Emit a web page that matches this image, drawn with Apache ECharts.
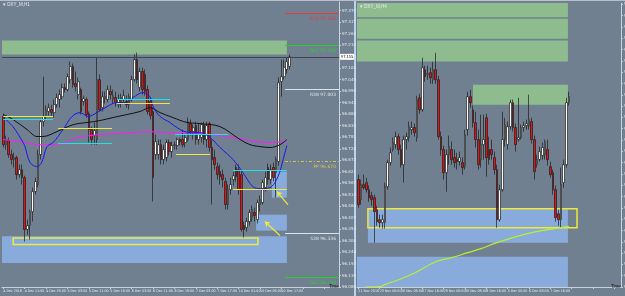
<!DOCTYPE html>
<html>
<head>
<meta charset="utf-8">
<script src="https://cdn.jsdelivr.net/npm/echarts@6/dist/echarts.min.js"></script>
<style>
html, body { margin: 0; padding: 0; background: #708090; }
#chart { width: 625px; height: 296px; }
</style>
</head>
<body>
<div id="chart"></div>
<script>
// left window, H1 bars (4 Dec 03:00 .. 10 Dec)
const leftOpen = [96.878,96.747,96.766,96.701,96.678,96.687,96.608,96.631,96.594,96.353,
  96.371,96.436,96.529,96.562,96.701,96.854,96.878,96.901,96.910,96.896,
  96.933,96.957,96.970,97.012,97.003,97.049,97.110,97.031,96.980,97.003,
  96.947,96.957,96.891,96.817,96.789,96.771,97.049,96.919,96.961,96.957,
  96.994,96.957,96.966,96.933,96.947,96.957,96.947,96.933,96.957,97.049,
  97.142,97.012,97.087,97.073,97.003,96.947,96.901,96.701,96.701,96.747,
  96.678,96.687,96.757,96.715,96.743,96.743,96.771,96.771,96.757,96.771,
  96.845,96.808,96.836,96.771,96.780,96.840,96.771,96.845,96.734,96.687,
  96.645,96.622,96.608,96.576,96.469,96.538,96.585,96.641,96.631,96.608,
  96.371,96.362,96.390,96.408,96.432,96.399,96.469,96.478,96.548,96.641,
  96.585,96.641,96.617,96.669,97.040,97.063,97.096,97.110]
const leftClose = [96.747,96.771,96.701,96.678,96.687,96.608,96.631,96.594,96.353,96.371,
  96.436,96.529,96.576,96.701,96.854,96.878,96.910,96.919,96.896,96.933,
  96.966,96.980,97.012,97.003,97.063,97.110,97.026,97.017,97.040,96.901,
  96.961,96.887,96.817,96.771,96.813,97.049,96.910,96.970,96.970,97.003,
  96.980,96.975,96.943,96.957,96.966,96.975,96.933,96.970,97.049,97.142,
  97.049,97.087,97.003,96.994,96.901,96.882,96.594,96.761,96.747,96.678,
  96.724,96.757,96.715,96.743,96.747,96.771,96.761,96.747,96.780,96.854,
  96.808,96.826,96.771,96.794,96.840,96.771,96.836,96.734,96.678,96.655,
  96.608,96.599,96.585,96.469,96.538,96.562,96.603,96.599,96.538,96.353,
  96.353,96.390,96.432,96.446,96.418,96.478,96.492,96.571,96.594,96.585,
  96.631,96.594,96.678,97.035,97.063,97.105,97.133,97.156]
const leftLow = [96.734,96.724,96.687,96.655,96.641,96.585,96.594,96.562,96.297,96.329,
  96.306,96.390,96.515,96.548,96.678,96.831,96.864,96.882,96.878,96.873,
  96.919,96.919,96.957,96.989,96.994,97.031,97.012,96.994,96.957,96.887,
  96.929,96.873,96.757,96.747,96.747,96.747,96.901,96.901,96.938,96.943,
  96.957,96.938,96.924,96.919,96.919,96.938,96.919,96.910,96.947,97.040,
  97.031,96.994,96.980,96.975,96.887,96.864,96.483,96.678,96.678,96.655,
  96.655,96.669,96.696,96.687,96.724,96.724,96.743,96.734,96.734,96.761,
  96.789,96.771,96.747,96.747,96.757,96.747,96.734,96.715,96.469,96.631,
  96.585,96.562,96.548,96.446,96.446,96.515,96.557,96.576,96.515,96.343,
  96.316,96.343,96.371,96.390,96.390,96.381,96.436,96.469,96.529,96.562,
  96.566,96.576,96.501,96.650,96.970,97.049,97.077,97.096]
const leftHigh = [96.891,96.789,96.780,96.724,96.710,96.696,96.655,96.655,96.603,96.399,
  96.446,96.548,96.594,96.724,96.864,97.063,96.929,96.938,96.933,96.957,
  96.984,97.003,97.031,97.031,97.077,97.133,97.124,97.087,97.059,97.012,
  96.975,96.966,96.901,96.831,96.850,97.152,97.073,96.994,96.994,97.022,
  97.022,97.003,96.994,96.980,96.984,97.003,96.975,96.984,97.068,97.166,
  97.175,97.105,97.105,97.096,97.022,96.966,96.919,96.794,96.771,96.771,
  96.747,96.771,96.771,96.761,96.761,96.780,96.780,96.817,96.794,96.873,
  96.864,96.840,96.854,96.845,96.850,96.854,96.854,96.854,96.771,96.724,
  96.664,96.655,96.631,96.594,96.562,96.594,96.622,96.655,96.655,96.631,
  96.390,96.408,96.446,96.464,96.455,96.492,96.511,96.585,96.622,96.659,
  96.655,96.664,96.692,97.059,97.142,97.142,97.152,97.166]
const leftTimeLabels = ['4 Dec 2018','4 Dec 11:00','4 Dec 19:00','5 Dec 03:00','5 Dec 11:00',
  '5 Dec 19:00','6 Dec 03:00','6 Dec 11:00','6 Dec 19:00','7 Dec 03:00','7 Dec 17:00',
  '10 Dec 01:00','10 Dec 09:00','10 Dec 17:00']

// moving averages [bar, price]
const leftFastMa = [[0,96.873],[3.6,96.831],[7.4,96.757],[8.1,96.738],[10,96.664],[12.6,96.645],
  [14.5,96.669],[16.3,96.738],[18.6,96.757],[22.3,96.817],[25.7,96.878],[28.7,96.896],[31.7,96.878],
  [35,96.896],[38.8,96.924],[42.5,96.943],[46.2,96.943],[48.5,96.966],[52.2,96.989],[54.8,96.970],
  [56,96.924],[58.6,96.878],[62.3,96.850],[66.1,96.817],[69.8,96.803],[73.5,96.803],[77.3,96.780],
  [81,96.734],[85.9,96.678],[89.6,96.617],[93.3,96.552],[96,96.543],[99.7,96.548],[102.7,96.599],
  [104.6,96.678],[106,96.743]]
const leftMidMa = [[0,96.887],[3.6,96.864],[8.9,96.817],[12.6,96.785],[14.8,96.785],[20.1,96.808],
  [26.1,96.840],[31.3,96.850],[36.1,96.859],[41,96.873],[46.2,96.887],[51.1,96.901],[54.8,96.919],
  [58.6,96.896],[63.4,96.873],[68.7,96.850],[73.5,96.845],[81,96.831],[88.5,96.771],[92.2,96.747],
  [96,96.738],[99.7,96.734],[103.4,96.747],[106,96.771]]
const leftSlowMa = [[0,96.771],[6.2,96.761],[13.7,96.747],[18.6,96.747],[23.1,96.757],[27.6,96.780],
  [36.1,96.794],[48.5,96.803],[54.8,96.808],[61.2,96.803],[67.2,96.803],[73.5,96.799],[85.9,96.780],
  [98.6,96.757],[106,96.761]]

// daily levels [fromBar, toBar, price]
const leftYellowLevels = [[0,18.6,96.878],[20.4,40.6,96.822],[42.5,62.3,96.939],[64.6,77.3,96.701],[85.9,106,96.542]]
const leftCyanLevels = [[0,18.6,96.866],[20.4,40.6,96.752],[42.5,62.3,96.957],[64.2,84,96.794],[85.9,106,96.628]]

const leftPivotNames = ['R78','R61','R38','PP','S38','S61']
const leftPivotValues = [97.356, 97.208, 97.003, 96.670, 96.336, 96.130]
const leftBid = 97.155

// zones [fromBar, toBar, lowPrice, highPrice]
const leftSupplyZones = [[-0.5,106,97.166,97.231]]
const leftDemandZones = [[-0.5,106,96.198,96.322],[100.4,106,96.501,96.622],[94.5,106,96.348,96.422]]
const leftFrames = [[3.7,95.2,96.283,96.314]]
// arrows [fromBar, fromPrice, toBar, toPrice]
const leftArrows = [[106.4,96.469,102.3,96.529],[103.4,96.325,97.8,96.390]]

// right window, H4 bars (21 Nov .. 10 Dec)
const rightOpen = [96.616,96.486,96.583,96.596,96.550,96.511,96.498,96.420,96.355,96.336,
  96.336,96.570,96.726,96.811,96.843,96.895,96.811,96.713,96.876,96.889,
  96.941,96.954,96.889,97.148,97.070,97.330,97.298,97.311,97.265,97.330,
  97.265,96.895,96.811,96.661,96.778,96.811,96.759,96.746,96.733,96.726,
  96.700,96.941,97.155,97.070,96.986,96.876,96.746,96.843,97.018,96.811,
  96.811,96.759,96.681,96.355,96.550,96.876,96.843,96.960,97.116,96.954,
  96.876,96.889,96.954,96.967,96.967,96.993,96.876,96.713,96.746,96.772,
  96.778,96.811,96.700,96.661,96.550,96.394,96.355,96.596,96.713,97.116]
const rightClose = [96.453,96.583,96.563,96.550,96.498,96.486,96.407,96.342,96.336,96.355,
  96.570,96.726,96.791,96.856,96.895,96.811,96.713,96.876,96.895,96.960,
  96.954,96.921,97.136,97.070,97.343,97.285,97.304,97.278,97.330,97.265,
  96.895,96.811,96.661,96.778,96.830,96.746,96.726,96.733,96.759,96.694,
  96.908,97.155,97.116,96.986,96.876,96.713,96.843,96.876,96.759,96.746,
  96.778,96.681,96.355,96.550,96.876,96.973,96.960,97.116,96.954,96.843,
  96.889,96.954,96.967,96.980,97.006,96.876,96.668,96.746,96.798,96.824,
  96.863,96.746,96.648,96.550,96.368,96.355,96.583,96.713,97.116,97.155]
const rightLow = [96.433,96.453,96.550,96.531,96.472,96.446,96.206,96.316,96.303,96.297,
  96.297,96.550,96.707,96.798,96.817,96.778,96.694,96.596,96.811,96.863,
  96.908,96.895,96.863,97.044,97.057,97.252,97.265,97.239,97.239,97.239,
  96.876,96.772,96.616,96.537,96.713,96.713,96.694,96.681,96.707,96.648,
  96.681,96.902,97.083,96.954,96.824,96.681,96.694,96.746,96.635,96.713,
  96.746,96.648,96.303,96.342,96.537,96.830,96.811,96.941,96.928,96.798,
  96.863,96.876,96.928,96.941,96.941,96.850,96.616,96.694,96.733,96.746,
  96.746,96.707,96.628,96.518,96.342,96.316,96.303,96.563,96.694,97.097]
const rightHigh = [96.648,96.616,96.648,96.628,96.577,96.537,96.518,96.446,96.388,96.388,
  96.596,96.746,96.824,96.889,96.928,96.915,96.843,96.902,96.921,96.993,
  96.993,96.980,97.161,97.174,97.408,97.356,97.356,97.343,97.382,97.441,
  97.291,96.928,96.836,96.811,96.902,96.863,96.811,96.791,96.798,96.759,
  96.941,97.187,97.200,97.097,97.057,96.941,97.038,97.038,97.044,96.895,
  96.876,96.798,96.713,96.583,97.057,97.018,96.993,97.136,97.136,96.980,
  97.148,96.973,96.993,97.006,97.168,97.018,96.902,96.778,96.830,96.856,
  96.876,96.876,96.733,96.681,96.577,96.420,96.694,96.746,97.148,97.187]
const rightTimeLabels = ['21 Nov 2018','23 Nov 00:00','26 Nov 08:00','27 Nov 16:00','29 Nov 00:00',
  '30 Nov 08:00','3 Dec 16:00','5 Dec 00:00','6 Dec 08:00','7 Dec 16:00']
const rightLongMa = [[3,95.918],[8,95.920],[10,95.933],[17,95.978],[22,96.017],[29,96.082],[35,96.108],
  [41,96.141],[46,96.167],[52,96.206],[62,96.258],[71,96.290],[79,96.310]]
const rightSupplyZones = [[-0.5,78.6,97.672,97.764],[-0.5,78.6,97.532,97.662],[-0.5,78.6,97.384,97.521],[43,78.6,97.103,97.233]]
const rightDemandZones = [[3.6,78.6,96.206,96.427],[-0.5,78.6,95.9175,96.115]]
const rightFrames = [[3.6,82,96.303,96.427]]
const rightBid = 97.155

const LEFT_SLOTS = 126
const RIGHT_SLOTS = 99

const makeCats = (n, labels) => {
  const out = []
  for (let i = 0; i < n; i++) {
    out.push(i % 8 === 0 && labels[i / 8] ? labels[i / 8] : '')
  }
  return out
}
const toCandles = (o, c, l, h) => o.map((v, i) => [v, c[i], l[i], h[i]])

const AXIS = '#c9d1da'
const TXT = '#e6eaef'
const GREEN = '#8fbc8f'
const BLUE = '#88abdb'
const YELLOW = '#eeea3c'

const zoneItems = (zones, style) =>
  zones.map((z) => [{ coord: [z[0], z[2]], itemStyle: style }, { coord: [z[1], z[3]] }])

const levelItems = (levels, color) =>
  levels.map((l) => [
    { coord: [l[0], l[2]], lineStyle: { color: color, width: 1, type: 'solid' } },
    { coord: [l[1], l[2]] }
  ])

const pivotColors = ['#e23c3c', '#28d228', '#dde2e8', '#d8c24e', '#dde2e8', '#28d228']

const priceAxis = (grid, min, max, step) => ({
  type: 'value',
  gridIndex: grid,
  position: 'right',
  min: min,
  max: max,
  interval: step,
  axisLine: { show: true, onZero: false, lineStyle: { color: AXIS, width: 1 } },
  axisTick: { show: true, length: 2, lineStyle: { color: AXIS } },
  axisLabel: {
    show: true,
    fontSize: 4,
    color: TXT,
    margin: 3,
    showMaxLabel: false,
    fontFamily: 'DejaVu Sans',
    formatter: (v) => v.toFixed(3)
  },
  splitLine: { show: false }
})

const timeAxis = (grid, cats) => ({
  type: 'category',
  gridIndex: grid,
  data: cats,
  boundaryGap: true,
  axisLine: { show: true, onZero: false, lineStyle: { color: AXIS, width: 1 } },
  axisTick: { show: true, interval: 7, length: 2, alignWithLabel: true, lineStyle: { color: AXIS } },
  axisLabel: {
    interval: 7,
    showMinLabel: true,
    hideOverlap: false,
    fontSize: 3.6,
    color: TXT,
    margin: 2,
    align: 'left',
    fontFamily: 'Liberation Sans Narrow, DejaVu Sans Condensed, sans-serif'
  },
  splitLine: { show: false }
})

const overlayAxis = (grid, n) => ({
  type: 'value',
  gridIndex: grid,
  min: -0.5,
  max: n - 0.5,
  show: false,
  axisLine: { onZero: false }
})

const candleStyle = {
  color: '#ffffff',
  color0: '#e31212',
  borderColor: '#1c1c1c',
  borderColor0: '#1c1c1c',
  borderWidth: 0.7
}

const maLine = (name, xi, yi, data, color, width) => ({
  name: name,
  type: 'line',
  xAxisIndex: xi,
  yAxisIndex: yi,
  data: data,
  showSymbol: false,
  symbol: 'none',
  smooth: 0.35,
  lineStyle: { color: color, width: width },
  z: 4
})

const bidItem = (price, slots, withLine) => [[
  {
    coord: [-0.5, price],
    lineStyle: { color: '#3d4552', width: 1, type: 'solid', opacity: withLine ? 1 : 0 },
    label: {
      show: true,
      position: 'end',
      formatter: price.toFixed(3),
      color: '#111',
      backgroundColor: '#ffffff',
      fontSize: 4,
      padding: [1, 1],
      distance: 1
    }
  },
  { coord: [slots - 0.5, price] }
]]

const chart = echarts.init(document.getElementById('chart'))

const leftMarkLines = [].concat(
  levelItems(leftCyanLevels, '#19e6e6'),
  levelItems(leftYellowLevels, YELLOW),
  leftPivotValues.map((v, k) => [
    {
      coord: [105.3, v],
      lineStyle: { color: pivotColors[k], width: 1, type: k === 3 ? [3, 2, 1, 2] : 'solid' },
      label: {
        show: true,
        position: 'insideEndBottom',
        formatter: leftPivotNames[k] + ' ' + v.toFixed(3),
        color: pivotColors[k],
        fontSize: 4.5,
        fontFamily: 'DejaVu Sans',
        distance: 3
      }
    },
    { coord: [125.5, v] }
  ]),
  bidItem(leftBid, LEFT_SLOTS, true),
  leftArrows.map((a) => [
    { coord: [a[0], a[1]], lineStyle: { color: YELLOW, width: 1.2, type: 'solid' } },
    { coord: [a[2], a[3]], symbol: 'arrow', symbolSize: 5 }
  ])
)

const option = {
  animation: false,
  backgroundColor: '#708090',
  title: [
    { text: '▾ DXY_M,H1', left: 3, top: 2, padding: 0, textStyle: { fontSize: 4.5, color: TXT, fontWeight: 'normal' } },
    { text: '▾ DXY_M,H4', left: 360, top: 4, padding: 0, textStyle: { fontSize: 4.5, color: TXT, fontWeight: 'normal' } },
    { text: 'Time', left: 329, top: 284, padding: 0, textStyle: { fontSize: 4.5, color: '#111', fontWeight: 'normal' } },
    { text: 'Time', left: 611, top: 284, padding: 0, textStyle: { fontSize: 4.5, color: '#111', fontWeight: 'normal' } }
  ],
  graphic: [
    { type: 'rect', left: 354, top: 0, shape: { width: 2, height: 296 }, style: { fill: '#b9d3ee' } },
    { type: 'rect', left: 0, top: 0, shape: { width: 625, height: 1 }, style: { fill: '#b8c0c8' } }
  ],
  grid: [
    { left: 2, top: 2, width: 337, height: 285, outerBoundsMode: 'none', containLabel: false },
    { left: 357, top: 3, width: 264, height: 284, outerBoundsMode: 'none', containLabel: false }
  ],
  xAxis: [
    timeAxis(0, makeCats(LEFT_SLOTS, leftTimeLabels)),
    overlayAxis(0, LEFT_SLOTS),
    timeAxis(1, makeCats(RIGHT_SLOTS, rightTimeLabels)),
    overlayAxis(1, RIGHT_SLOTS)
  ],
  yAxis: [
    priceAxis(0, 96.086, 97.4097, 0.0535),
    priceAxis(1, 95.9175, 97.7641, 0.0735)
  ],
  series: [
    {
      name: 'leftMarks',
      type: 'line',
      xAxisIndex: 1,
      yAxisIndex: 0,
      data: [],
      silent: true,
      markArea: {
        silent: true,
        label: { show: false },
        data: [].concat(
          zoneItems(leftSupplyZones, { color: GREEN }),
          zoneItems(leftDemandZones, { color: BLUE }),
          zoneItems(leftFrames, { color: 'rgba(0,0,0,0)', borderColor: YELLOW, borderWidth: 1.5 })
        )
      },
      markLine: {
        silent: true,
        symbol: ['none', 'none'],
        lineStyle: { type: 'solid' },
        label: { show: false },
        data: leftMarkLines
      }
    },
    {
      name: 'leftBars',
      type: 'candlestick',
      xAxisIndex: 0,
      yAxisIndex: 0,
      barWidth: 2.2,
      data: toCandles(leftOpen, leftClose, leftLow, leftHigh),
      itemStyle: candleStyle
    },
    maLine('leftSlow', 1, 0, leftSlowMa, '#ff1aff', 1),
    maLine('leftMid', 1, 0, leftMidMa, '#111111', 1),
    maLine('leftFast', 1, 0, leftFastMa, '#1818f0', 1),
    {
      name: 'rightMarks',
      type: 'line',
      xAxisIndex: 3,
      yAxisIndex: 1,
      data: [],
      silent: true,
      markArea: {
        silent: true,
        label: { show: false },
        data: [].concat(
          zoneItems(rightSupplyZones, { color: GREEN }),
          zoneItems(rightDemandZones, { color: BLUE }),
          zoneItems(rightFrames, { color: 'rgba(0,0,0,0)', borderColor: YELLOW, borderWidth: 1.5 })
        )
      },
      markLine: {
        silent: true,
        symbol: ['none', 'none'],
        label: { show: false },
        data: bidItem(rightBid, RIGHT_SLOTS, false)
      }
    },
    {
      name: 'rightBars',
      type: 'candlestick',
      xAxisIndex: 2,
      yAxisIndex: 1,
      barWidth: 2.2,
      data: toCandles(rightOpen, rightClose, rightLow, rightHigh),
      itemStyle: candleStyle
    },
    maLine('rightLong', 3, 1, rightLongMa, '#b6f02c', 1.2)
  ]
}

chart.setOption(option)
</script>
</body>
</html>
